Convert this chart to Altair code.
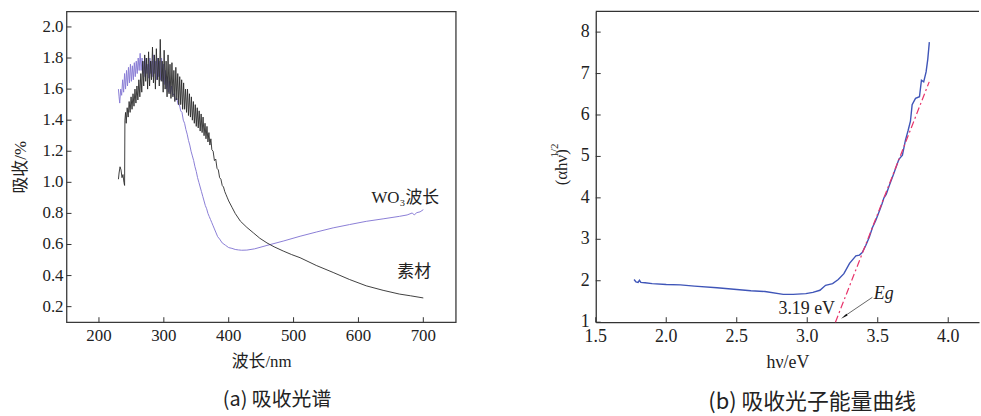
import altair as alt
import pandas as pd

SERIF = "Liberation Serif, Noto Sans CJK SC"
NUM = "Liberation Serif"
SANS = "Noto Sans CJK SC"

# ---------------- Panel (a): absorption spectrum ----------------
bare = [  # (wavelength nm, absorption) for 素材
    (230, 1.02), (231, 1.06), (232.5, 1.10), (234, 1.08), (235.5, 1.03), (237, 1.05),
    (238.5, 1.00), (239.5, 0.98), (240, 1.40), (241, 1.45), (242, 1.38), (243.5, 1.48),
    (245, 1.42), (246.5, 1.52), (248, 1.45), (249.5, 1.55), (251, 1.47), (252.5, 1.57),
    (254, 1.49), (255.5, 1.60), (257, 1.51), (258.5, 1.62), (260, 1.53), (261.5, 1.66),
    (263, 1.55), (264.5, 1.70), (266, 1.58), (267.5, 1.78), (269, 1.62), (270.5, 1.82),
    (272, 1.65), (273.5, 1.80), (275, 1.60), (276.5, 1.84), (278, 1.62), (279.5, 1.78),
    (281, 1.66), (282.5, 1.87), (284, 1.64), (285.5, 1.82), (287, 1.60), (288.5, 1.86),
    (290, 1.66), (291.5, 1.80), (293, 1.62), (294.5, 1.92), (296, 1.65), (297.5, 1.78),
    (299, 1.58), (300.5, 1.85), (302, 1.60), (303.5, 1.78), (305, 1.55), (306.5, 1.82),
    (308, 1.57), (309.5, 1.76), (311, 1.54), (312.5, 1.77), (314, 1.55), (315.5, 1.72),
    (317, 1.52), (318.5, 1.74), (320, 1.53), (321.5, 1.70), (323, 1.50), (324.5, 1.68),
    (326, 1.50), (327.5, 1.66), (329, 1.47), (330.5, 1.64), (332, 1.47), (333.5, 1.60),
    (335, 1.45), (336.5, 1.60), (338, 1.43), (339.5, 1.57), (341, 1.42), (342.5, 1.55),
    (344, 1.40), (345.5, 1.52), (347, 1.38), (348.5, 1.50), (350, 1.36), (351.5, 1.48),
    (353, 1.35), (354.5, 1.46), (356, 1.33), (357.5, 1.44), (359, 1.32), (360.5, 1.42),
    (362, 1.30), (363.5, 1.38), (365, 1.28), (366.5, 1.36), (368, 1.26), (369.5, 1.32),
    (371, 1.24), (372.5, 1.28), (374, 1.21), (376, 1.20), (378, 1.14), (380, 1.15),
    (382, 1.09), (384, 1.08), (386, 1.03), (388, 1.02), (390, 0.98), (392, 0.97),
    (394, 0.94), (396, 0.92), (398, 0.90), (400, 0.88), (405, 0.84), (410, 0.80),
    (418, 0.75), (428, 0.71), (438, 0.675), (448, 0.64), (459, 0.61), (470, 0.585),
    (484, 0.558), (497, 0.535), (510, 0.515), (535, 0.465), (561, 0.42), (586, 0.375),
    (612, 0.334), (638, 0.305), (663, 0.281), (680, 0.27), (700, 0.256),
]
wo3 = [  # (wavelength nm, absorption) for WO3
    (230, 1.60), (231, 1.55), (232, 1.51), (233.5, 1.60), (235, 1.56), (236.5, 1.66),
    (238, 1.58), (239.5, 1.70), (241, 1.60), (242.5, 1.72), (244, 1.62), (245.5, 1.74),
    (247, 1.64), (248.5, 1.76), (250, 1.65), (251.5, 1.75), (253, 1.66), (254.5, 1.77),
    (256, 1.68), (257.5, 1.78), (259, 1.70), (260.5, 1.80), (262, 1.72), (263.5, 1.83),
    (265, 1.72), (266.5, 1.80), (268, 1.70), (269.5, 1.78), (271, 1.68), (272.5, 1.80),
    (274, 1.70), (275.5, 1.76), (277, 1.67), (278.5, 1.80), (280, 1.70), (281.5, 1.78),
    (283, 1.68), (284.5, 1.82), (286, 1.70), (287.5, 1.78), (289, 1.66), (290.5, 1.80),
    (292, 1.68), (293.5, 1.78), (295, 1.66), (296.5, 1.80), (298, 1.65), (299.5, 1.76),
    (301, 1.63), (302.5, 1.72), (304, 1.60), (305.5, 1.68), (307, 1.58), (308.5, 1.65),
    (310, 1.57), (312, 1.62), (314, 1.56), (316, 1.57), (318, 1.53), (320, 1.54),
    (322, 1.50), (324, 1.50), (326, 1.46), (328, 1.45), (330, 1.40), (332, 1.38),
    (334, 1.34), (336, 1.31), (338, 1.27), (340, 1.24), (342, 1.20), (344, 1.17),
    (346, 1.14), (348, 1.10), (350, 1.07), (352, 1.03), (354, 1.00), (356, 0.97),
    (358, 0.94), (360, 0.91), (362, 0.88), (364, 0.85), (366, 0.83), (368, 0.80),
    (370, 0.78), (372, 0.76), (374, 0.74), (376, 0.72), (378, 0.70), (380, 0.68),
    (383, 0.65), (386, 0.635), (390, 0.61), (395, 0.595), (400, 0.58), (405, 0.575),
    (410, 0.568), (415, 0.565), (420, 0.563), (428, 0.564), (440, 0.572), (459, 0.594),
    (485, 0.623), (510, 0.653), (535, 0.68), (561, 0.707), (586, 0.728), (612, 0.749),
    (638, 0.765), (663, 0.781), (675, 0.79), (683, 0.803), (686, 0.79), (690, 0.805),
    (695, 0.81), (700, 0.824),
]
a_xticks = [200, 300, 400, 500, 600, 700]
a_xlabels = ["200", "300", "400", "500", "600", "700"]
a_yticks = [0.2, 0.4, 0.6, 0.8, 1.0, 1.2, 1.4, 1.6, 1.8, 2.0]
a_ylabels = ["0.2", "0.4", "0.6", "0.8", "1.0", "1.2", "1.4", "1.6", "1.8", "2.0"]
a_label_text = ["WO₃波长", "素材"]
a_label_nm = [620, 660]
a_label_abs = [0.90, 0.42]

# ---------------- Panel (b): photon energy curve ----------------
hv = [1.772, 1.785, 1.80, 1.81, 1.82, 1.85, 1.90, 2.0, 2.1, 2.2, 2.36, 2.5, 2.6, 2.7,
      2.83, 2.9, 2.99, 3.04, 3.09, 3.13, 3.18, 3.22, 3.26, 3.30, 3.345, 3.37, 3.39,
      3.415, 3.44, 3.462, 3.485, 3.509, 3.53, 3.544, 3.56, 3.58, 3.61, 3.65, 3.675,
      3.697, 3.715, 3.732, 3.744, 3.768, 3.796, 3.81, 3.826, 3.843, 3.855, 3.866]
ahv = [2.03, 1.97, 1.96, 2.01, 1.96, 1.95, 1.93, 1.91, 1.90, 1.87, 1.83, 1.79, 1.76, 1.74,
       1.67, 1.67, 1.69, 1.72, 1.77, 1.89, 1.93, 2.03, 2.17, 2.42, 2.60, 2.62, 2.68,
       2.85, 3.05, 3.28, 3.45, 3.66, 3.85, 4.00, 4.08, 4.28, 4.55, 4.93, 5.03,
       5.40, 5.62, 5.85, 6.25, 6.40, 6.44, 6.84, 6.80, 7.04, 7.35, 7.76]
fit_hv = [3.20, 3.865]
fit_y = [1.0, 6.8]
arrow_hv = [3.462, 3.262]
arrow_y = [1.60, 1.14]
head_hv = [3.268]
head_y = [1.15]
b_xticks = [1.5, 2.0, 2.5, 3.0, 3.5, 4.0]
b_xlabels = ["1.5", "2.0", "2.5", "3.0", "3.5", "4.0"]
b_yticks = [1, 2, 3, 4, 5, 6, 7, 8]
b_ylabels = ["1", "2", "3", "4", "5", "6", "7", "8"]
b_label_text = ["3.19 eV", "Eg"]
b_label_hv = [3.197, 3.472]
b_label_y = [1.32, 1.68]


def axis(values, title, tsize, tpad, dom):
    return alt.Axis(values=values, title=title, ticks=False, grid=False, labels=False,
                    domain=dom, titleFont=SERIF, titleFontSize=tsize,
                    titleFontWeight="normal", titleColor="#222", titlePadding=tpad)


# ---------------- build panel (a) ----------------
WA, HA = 392, 313
xa = alt.Scale(domain=[150, 750], nice=False, zero=False)
ya = alt.Scale(domain=[0.1, 2.1], nice=False, zero=False)

df_bare = pd.DataFrame(bare, columns=["nm", "abs"]).reset_index()
df_wo3 = pd.DataFrame(wo3, columns=["nm", "abs"]).reset_index()

x_axis_a = axis(a_xticks, "波长/nm", 17, 32, False)
y_axis_a = axis(a_yticks, "吸收/%", 17, 37, False)


def enc_a(ch, **kw):
    return ch.encode(x=alt.X("nm:Q", scale=xa, axis=x_axis_a),
                     y=alt.Y("abs:Q", scale=ya, axis=y_axis_a), **kw)


purple = enc_a(alt.Chart(df_wo3).mark_line(color="#8a7ed6", strokeWidth=1), order="index:Q")
black = enc_a(alt.Chart(df_bare).mark_line(color="#2b2b2b", strokeWidth=1, opacity=0.9), order="index:Q")
labels_a = enc_a(alt.Chart(pd.DataFrame({"nm": a_label_nm, "abs": a_label_abs, "t": a_label_text})).mark_text(
    font=SERIF, fontSize=17, color="#222", align="left", baseline="middle"), text="t:N")
xt_a = alt.Chart(pd.DataFrame({"nm": a_xticks})).mark_rule(color="#333", strokeWidth=1).encode(
    x=alt.X("nm:Q", scale=xa, axis=x_axis_a), y=alt.value(HA), y2=alt.value(HA - 5))
yt_a = alt.Chart(pd.DataFrame({"abs": a_yticks})).mark_rule(color="#333", strokeWidth=1).encode(
    y=alt.Y("abs:Q", scale=ya, axis=y_axis_a), x=alt.value(0), x2=alt.value(5))
xl_a = alt.Chart(pd.DataFrame({"nm": a_xticks, "t": a_xlabels})).mark_text(
    font=NUM, fontSize=17, color="#222", align="center", baseline="middle").encode(
    x=alt.X("nm:Q", scale=xa, axis=x_axis_a), y=alt.value(HA + 14), text="t:N")
yl_a = alt.Chart(pd.DataFrame({"abs": a_yticks, "t": a_ylabels})).mark_text(
    font=NUM, fontSize=17, color="#222", align="right", baseline="middle").encode(
    y=alt.Y("abs:Q", scale=ya, axis=y_axis_a), x=alt.value(-3), text="t:N")

panel_a = alt.layer(purple, black, labels_a, xt_a, yt_a, xl_a, yl_a).properties(
    width=WA, height=HA,
    view=alt.ViewBackground(stroke="#3a3a3a", strokeWidth=1.3),
    title=alt.TitleParams("(a) 吸收光谱", orient="bottom", anchor="middle", frame="group",
                          font=SANS, fontSize=20, fontWeight="normal", color="#222",
                          offset=20, dx=16),
)

# ---------------- build panel (b) ----------------
WB, HB = 386, 313
xb = alt.Scale(domain=[1.5, 1.5 + WB / 142.0], nice=False, zero=False)
yb = alt.Scale(domain=[1, 8.5], nice=False, zero=False)

x_axis_b = axis(b_xticks, "hν/eV", 18, 32, True)
y_axis_b = axis(b_yticks, "(αhν)", 17, 25, True)


def enc_b(ch, **kw):
    return ch.encode(x=alt.X("hv:Q", scale=xb, axis=x_axis_b),
                     y=alt.Y("v:Q", scale=yb, axis=y_axis_b), **kw)


df_curve = pd.DataFrame({"hv": hv, "v": ahv}).reset_index()
curve = enc_b(alt.Chart(df_curve).mark_line(color="#3f55b8", strokeWidth=1.4), order="index:Q")
fit = enc_b(alt.Chart(pd.DataFrame({"hv": fit_hv, "v": fit_y})).mark_line(
    color="#e8346b", strokeWidth=1.2, strokeDash=[7, 3, 2, 3]))
arrow = enc_b(alt.Chart(pd.DataFrame({"hv": arrow_hv, "v": arrow_y})).mark_line(
    color="#666", strokeWidth=1))
head = enc_b(alt.Chart(pd.DataFrame({"hv": head_hv, "v": head_y})).mark_point(
    shape="wedge", filled=True, color="#111", size=70, angle=236, opacity=1))
lab_319 = enc_b(alt.Chart(pd.DataFrame({"hv": [b_label_hv[0]], "v": [b_label_y[0]], "t": [b_label_text[0]]})).mark_text(
    font=NUM, fontSize=18, color="#222", baseline="middle", align="right"), text="t:N")
lab_eg = enc_b(alt.Chart(pd.DataFrame({"hv": [b_label_hv[1]], "v": [b_label_y[1]], "t": [b_label_text[1]]})).mark_text(
    font=NUM, fontSize=18, color="#222", baseline="middle", align="left", fontStyle="italic"), text="t:N")
sup = alt.Chart(pd.DataFrame({"t": ["1/2"]})).mark_text(
    font=NUM, fontSize=11, color="#222", angle=270, align="center", baseline="middle"
).encode(text="t:N", x=alt.value(-41), y=alt.value(140))
xt_b = alt.Chart(pd.DataFrame({"hv": b_xticks})).mark_rule(color="#333", strokeWidth=1).encode(
    x=alt.X("hv:Q", scale=xb, axis=x_axis_b), y=alt.value(HB), y2=alt.value(HB - 5))
yt_b = alt.Chart(pd.DataFrame({"v": b_yticks})).mark_rule(color="#333", strokeWidth=1).encode(
    y=alt.Y("v:Q", scale=yb, axis=y_axis_b), x=alt.value(0), x2=alt.value(5))
xl_b = alt.Chart(pd.DataFrame({"hv": b_xticks, "t": b_xlabels})).mark_text(
    font=NUM, fontSize=18, color="#222", align="center", baseline="middle").encode(
    x=alt.X("hv:Q", scale=xb, axis=x_axis_b), y=alt.value(HB + 15), text="t:N")
yl_b = alt.Chart(pd.DataFrame({"v": b_yticks, "t": b_ylabels})).mark_text(
    font=NUM, fontSize=18, color="#222", align="right", baseline="middle").encode(
    y=alt.Y("v:Q", scale=yb, axis=y_axis_b), x=alt.value(-6), text="t:N")
top_b = alt.Chart(pd.DataFrame({"k": [0]})).mark_rule(color="#333", strokeWidth=1.3).encode(
    x=alt.value(0), x2=alt.value(WB), y=alt.value(0))

panel_b = alt.layer(curve, fit, arrow, head, lab_319, lab_eg, sup, xt_b, yt_b, xl_b, yl_b, top_b).properties(
    width=WB, height=HB,
    view=alt.ViewBackground(stroke="transparent"),
    title=alt.TitleParams("(b) 吸收光子能量曲线", orient="bottom", anchor="middle", frame="group",
                          font=SANS, fontSize=22, fontWeight="normal", color="#222",
                          offset=20, dx=25),
)

chart = alt.hconcat(panel_a, panel_b, spacing=92).properties(
    padding={"left": 11, "top": 8, "right": 0, "bottom": 0},
    background="white",
).configure_axis(
    titleFont=SERIF
).configure_axisLeft(
    domainColor="#333", domainWidth=1.3
).configure_axisBottom(
    domainColor="#333", domainWidth=1.3
)

chart.save("out.html", embed_options={"renderer": "svg", "actions": False})
